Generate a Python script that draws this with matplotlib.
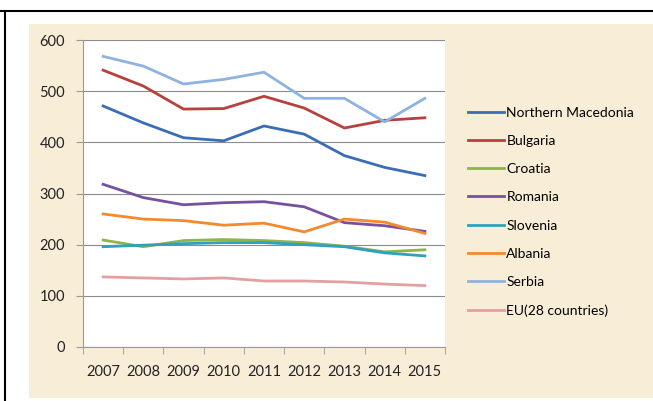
import matplotlib
matplotlib.use("Agg")
import matplotlib.pyplot as plt
from matplotlib.patches import Rectangle
from matplotlib.lines import Line2D

plt.rcParams["font.family"] = ["Lato", "DejaVu Sans"]

years = ["2007", "2008", "2009", "2010", "2011", "2012", "2013", "2014", "2015"]
n_macedonia = [471, 438, 409, 403, 432, 416, 374, 351, 335]
bulgaria = [541, 510, 465, 466, 490, 467, 428, 443, 448]
croatia = [209, 196, 208, 210, 208, 204, 197, 186, 190]
romania = [318, 292, 278, 282, 284, 274, 243, 237, 226]
slovenia = [196, 199, 202, 204, 204, 200, 196, 184, 178]
albania = [260, 250, 247, 238, 242, 225, 250, 244, 222]
serbia = [568, 549, 514, 523, 537, 486, 486, 440, 486]
eu28 = [137, 135, 133, 135, 129, 129, 127, 123, 120]

series = [
    ("Northern Macedonia", n_macedonia, "#3A6DB3"),
    ("Bulgaria", bulgaria, "#B8413D"),
    ("Croatia", croatia, "#8DB54A"),
    ("Romania", romania, "#7850A0"),
    ("Slovenia", slovenia, "#2FA0BE"),
    ("Albania", albania, "#F38A2E"),
    ("Serbia", serbia, "#8FB3E0"),
    ("EU(28 countries)", eu28, "#E3A0A2"),
]

fig = plt.figure(figsize=(6.53, 4.01), dpi=100)
fig.patch.set_facecolor("white")

# beige chart background and frame lines
fig.add_artist(Rectangle((29 / 653, 3 / 401), 624 / 653, 374 / 401,
                         transform=fig.transFigure, facecolor="#F8EED7",
                         edgecolor="none", zorder=-10))
fig.add_artist(Line2D([0, 1], [1 - 11 / 401, 1 - 11 / 401], transform=fig.transFigure,
                      color="black", lw=1.5))
fig.add_artist(Line2D([5 / 653, 5 / 653], [0, 1 - 11 / 401], transform=fig.transFigure,
                      color="black", lw=1.5))

ax = fig.add_axes([83 / 653, 1 - 347 / 401, (445 - 83) / 653, (347 - 40) / 401])
ax.set_facecolor("white")

x = list(range(len(years)))
for name, vals, col in series:
    ax.plot(x, vals, color=col, lw=2, label=name)

ax.set_xlim(-0.5, len(years) - 0.5)
ax.set_ylim(0, 600)
ax.set_yticks(range(0, 601, 100))
ax.set_xticks(x)
ax.set_xticklabels(years)
ax.set_xticks([i - 0.5 for i in range(len(years) + 1)], minor=True)
ax.tick_params(axis="x", which="major", length=0, pad=13, labelsize=10.5, colors="#222222")
ax.tick_params(axis="x", which="minor", length=5, color="#999999")
ax.tick_params(axis="y", length=5, color="#999999", labelsize=10.5, colors="#222222", pad=8)
ax.grid(axis="y", color="#8c8c8c", lw=0.8)
ax.set_axisbelow(True)
for s in ["top", "right"]:
    ax.spines[s].set_visible(False)
ax.spines["left"].set_color("#999999")
ax.spines["bottom"].set_color("#999999")

leg = fig.legend(loc="upper left", bbox_to_anchor=(462 / 653, 1 - 101 / 401),
                 frameon=False, fontsize=10, labelspacing=1.17, handlelength=2.6,
                 handletextpad=0.2, borderaxespad=0)

plt.savefig("out.png", dpi=100)
